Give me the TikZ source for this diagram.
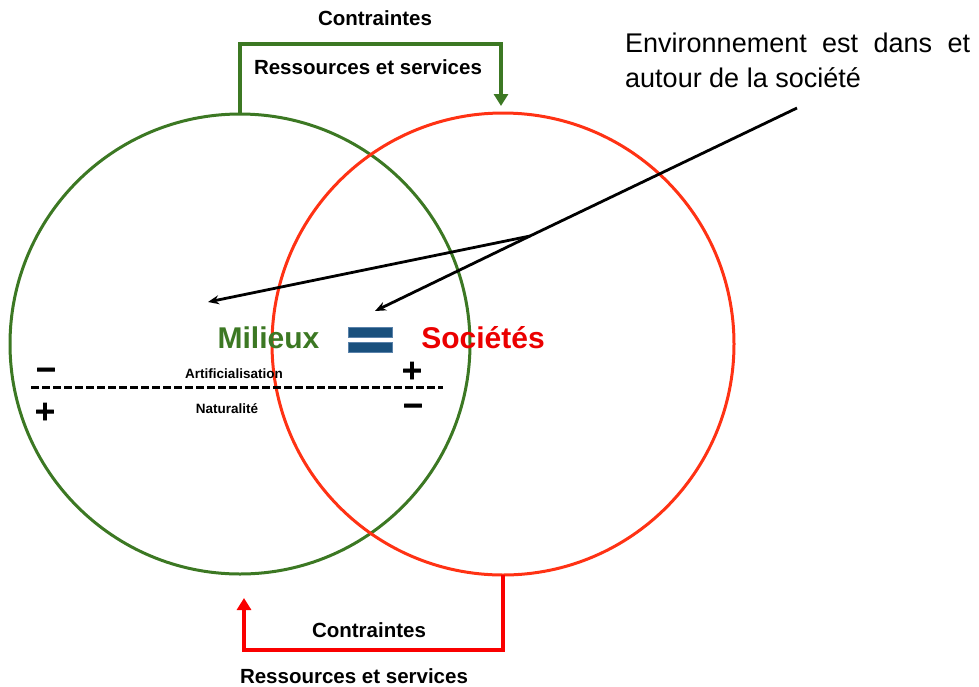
\documentclass[tikz,border=0pt]{standalone}
\usepackage{fontspec}
\setmainfont{Liberation Sans}
\newfontfamily\signfont[FakeBold=3]{DejaVu Sans}
\usetikzlibrary{arrows.meta}
\definecolor{mgreen}{RGB}{60,120,35}
\definecolor{sred}{RGB}{255,50,20}
\definecolor{bred}{RGB}{250,0,0}
\definecolor{tred}{RGB}{235,0,0}
\definecolor{eqblue}{RGB}{25,80,125}
\definecolor{eqedge}{RGB}{90,130,170}
\newcommand{\fsz}[2]{\fontsize{#1}{#2}\selectfont}
\begin{document}
\begin{tikzpicture}[x=1pt,y=-1pt,
  ring/.style={circle,draw,line width=3pt,minimum size=#1,inner sep=0,outer sep=0},
  lbl/.style={font=\fsz{20.5}{23}\bfseries,inner sep=0,anchor=base},
  bracket/.style={line width=4pt,-{Triangle[length=12pt,width=14pt]}},
  pointer/.style={line width=2.8pt,-{Stealth[length=11pt,width=9pt]}},
  sign/.style={inner sep=0,anchor=base,font=\signfont\bfseries\fsz{27}{27}},
  small/.style={font=\fsz{13.5}{15}\bfseries,inner sep=0,anchor=base},
  big/.style={font=\fsz{30}{32}\bfseries,inner sep=0,anchor=base},
  eqbar/.style={fill=eqblue,draw=eqedge,line width=0.8pt}
]
\useasboundingbox (0,0) rectangle (979,686);

% circles
\node[ring=460pt,draw=mgreen] (milieu) at (240,344) {};
\node[ring=462pt,draw=sred] (societe) at (503,344) {};

% brackets
\coordinate (gtip) at (501,106);
\coordinate (rtip) at (244,598);
\draw[bracket,mgreen] (milieu.north) -- ++(0,-70) -| (gtip);
\draw[bracket,bred] (societe.south) -- ++(0,75) -| (rtip);

% labels
\node[lbl] (c1) at (375,25) {Contraintes};
\node[lbl] (r1) at (368,74) {Ressources et services};
\node[lbl] (c2) at (369,637) {Contraintes};
\node[lbl] (r2) at (354,683) {Ressources et services};

% central words
\node[big,text=mgreen] (mil) at (268.5,348) {Milieux};
\node[big,text=tred] (soc) at (483,348) {Sociétés};
\node[inner sep=0,minimum width=44pt,minimum height=26pt] (eq) at (370,340) {};
\draw[eqbar] (348,327) rectangle (392,337);
\draw[eqbar] (348,342) rectangle (392,352);

% annotation
\node[anchor=north west,inner sep=0,text width=345pt,align=justify,font=\fsz{27}{35}] (env) at (625,33)
  {Environnement est dans et\linebreak autour de la société};
\coordinate (src) at (797,108);
\coordinate (jn) at (530,236);
\coordinate (t1) at (208,302);
\coordinate (t2) at (375,311);
\draw[pointer] (src) -- (jn) -- (t1);
\draw[pointer] (jn) -- (t2);

% dashed axis
\coordinate (dl) at (31,387);
\coordinate (dr) at (443,387);
\draw[line width=3pt,dash pattern=on 7.5pt off 3.5pt] (dl) -- (dr);
\node[small] (art) at (234,378) {Artificialisation};
\node[small] (nat) at (227,413) {Naturalité};

% signs
\node[sign] (m1) at (46,378) {−};
\node[sign] (p1) at (45,420) {+};
\node[sign] (p2) at (412,379) {+};
\node[sign] (m2) at (413,414) {−};
\end{tikzpicture}
\end{document}
